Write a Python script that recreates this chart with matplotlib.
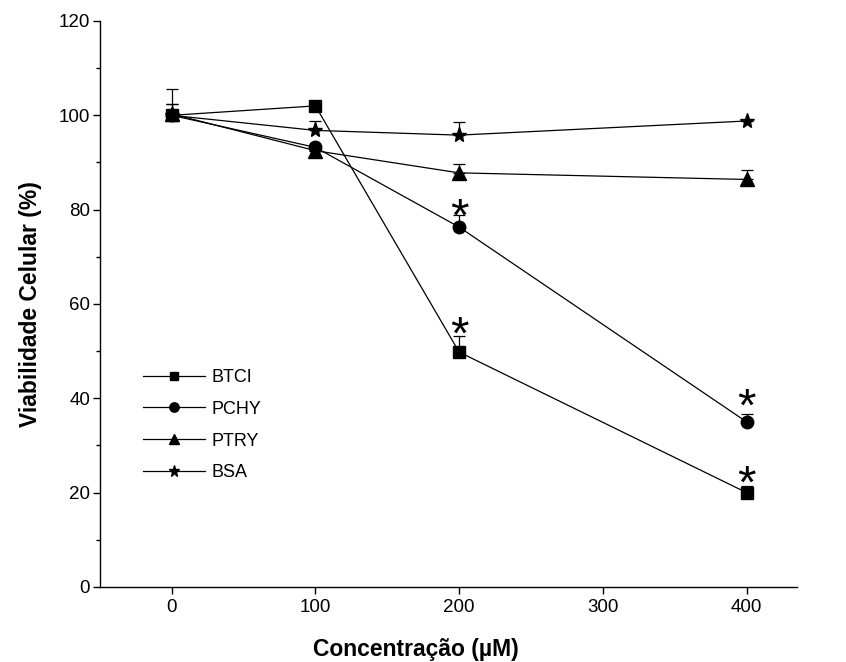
import numpy as np
import matplotlib
matplotlib.use("Agg")
import matplotlib.pyplot as plt
from matplotlib.ticker import MultipleLocator

plt.rcParams['font.family'] = ['Liberation Sans', 'DejaVu Sans']

conc = [0, 100, 200, 400]

btci = [100, 102, 49.8, 20]
btci_err = [0.5, 0, 3.5, 1.5]
pchy = [100, 93.2, 76.3, 35.0]
pchy_err = [2.5, 0.5, 2.5, 1.6]
ptry = [100.3, 92.5, 87.8, 86.4]
ptry_err = [2.0, 0.5, 1.8, 2.0]
bsa = [100, 96.8, 95.8, 98.8]
bsa_err = [5.5, 2.0, 2.8, 0.3]

series_names = ['BTCI', 'PCHY', 'PTRY', 'BSA']
series_markers = ['s', 'o', '^', '*']

# asteriscos de significancia (x, y)
sig_x = [200, 200, 400, 400]
sig_y = [55.5, 80.5, 40.3, 24.0]

fig = plt.figure(figsize=(8.46, 6.62), dpi=100)
ax = fig.add_axes([0.118, 0.1133, 0.824, 0.855])

valores = [btci, pchy, ptry, bsa]
erros = [btci_err, pchy_err, ptry_err, bsa_err]
tamanhos = [8.5, 9, 9.5, 11]

for nome, mk, val, err, ms in zip(series_names, series_markers, valores, erros, tamanhos):
    ax.errorbar(conc, val, yerr=[np.zeros(len(err)), err], fmt='none',
                ecolor='black', elinewidth=0.9, capsize=4.5, capthick=0.9)
    ax.plot(conc, val, color='black', marker=mk, markersize=ms,
            linewidth=0.9, label=nome)

for x, y in zip(sig_x, sig_y):
    ax.annotate('*', (x, y), xytext=(0, -8.5), textcoords='offset points',
                ha='center', va='center', fontsize=34)

ax.set_xlim(-50, 435)
ax.set_ylim(0, 120)
ax.xaxis.set_major_locator(MultipleLocator(100))
ax.yaxis.set_major_locator(MultipleLocator(20))
ax.yaxis.set_minor_locator(MultipleLocator(10))

ax.spines['top'].set_visible(False)
ax.spines['right'].set_visible(False)
ax.spines['left'].set_linewidth(1.0)
ax.spines['bottom'].set_linewidth(1.0)
ax.tick_params(axis='both', which='major', direction='out', length=5, width=1.0,
               labelsize=13.5)
ax.tick_params(axis='y', which='major', pad=2)
ax.tick_params(axis='x', which='major', pad=4)
ax.tick_params(axis='y', which='minor', direction='out', length=3, width=1.0)

ax.set_xlabel('Concentração (µM)', fontsize=16.5, fontweight='bold')
ax.xaxis.set_label_coords(0.453, -0.09)
ax.set_ylabel('Viabilidade Celular (%)', fontsize=16.5, fontweight='bold', labelpad=12)

ax.legend(loc='upper left', bbox_to_anchor=(0.052, 0.398), frameon=False,
          fontsize=13, handlelength=3.4, handletextpad=0.35,
          labelspacing=0.82, markerscale=0.75, borderaxespad=0)

fig.savefig('out.png', dpi=100)
